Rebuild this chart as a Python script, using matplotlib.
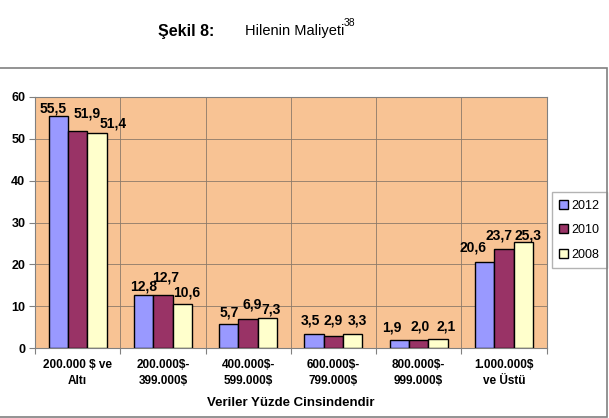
import numpy as np
import matplotlib.pyplot as plt
from matplotlib.patches import Rectangle
from matplotlib.transforms import offset_copy

# Veriler (yüzde)
kategoriler = ['200.000 $ ve\nAltı', '200.000$-\n399.000$', '400.000$-\n599.000$',
               '600.000$-\n799.000$', '800.000$-\n999.000$', '1.000.000$\nve Üstü']
yillar = ['2012', '2010', '2008']
v2012 = [55.5, 12.8, 5.7, 3.5, 1.9, 20.6]
v2010 = [51.9, 12.7, 6.9, 2.9, 2.0, 23.7]
v2008 = [51.4, 10.6, 7.3, 3.3, 2.1, 25.3]
renkler = ['#9999FF', '#993366', '#FFFFCC']

# etiket kaydırmaları (piksel: dx, çubuk üstünden yukarı dy) - seri bazında
kaydir = [
    [(-5, 7), (0, 8), (0, 12), (-4, 13), (-8, 13), (-12, 14)],
    [(9, 17), (3, 18), (4, 15), (0, 16), (1, 13), (-5, 13)],
    [(16, 9), (4, 11), (4, 8), (5, 14), (8, 13), (5, 7)],
]

fig = plt.figure(figsize=(6.09, 4.18), dpi=100)
ax = fig.add_axes([0.0575, 0.167, 0.84, 0.601])

# dış çerçeve
fig.patches.append(Rectangle((-0.02, 0.003), 0.02 + 607 / 609, 1 - 68 / 418 - 0.003,
                             transform=fig.transFigure, fill=False,
                             edgecolor='#808080', linewidth=1.2))

fig.text(0.305, 0.925, 'Şekil 8:', fontsize=11.5, fontweight='bold', ha='center', va='center',
         family='Liberation Sans')
t = fig.text(0.402, 0.925, 'Hilenin Maliyeti', fontsize=10.5, ha='left', va='center',
             family='Liberation Sans')
fig.canvas.draw()
bb = t.get_window_extent()
fig.text(bb.x1 / fig.bbox.width - 0.001, 0.945, '38', fontsize=7.5, ha='left', va='center',
         family='Liberation Sans')

x = np.arange(len(kategoriler))
w = 0.227
seriler = [v2012, v2010, v2008]
for i, (vals, renk, yil) in enumerate(zip(seriler, renkler, yillar)):
    bars = ax.bar(x + (i - 1) * w, vals, w, color=renk, edgecolor='black',
                  linewidth=1, label=yil, zorder=3)
    for j, (b, v) in enumerate(zip(bars, vals)):
        dx, dy = kaydir[i][j]
        tr = offset_copy(ax.transData, fig=fig, x=dx, y=dy, units='dots')
        ax.text(b.get_x() + b.get_width() / 2, v, f'{v:.1f}'.replace('.', ','),
                ha='center', va='center', fontsize=10, fontweight='bold',
                family='Liberation Sans', zorder=4, transform=tr)

ax.set_facecolor('#F8C394')
ax.set_xlim(-0.5, len(kategoriler) - 0.5)
ax.set_ylim(0, 60)
ax.set_yticks(range(0, 61, 10))
ax.set_xticks(np.arange(-0.5, len(kategoriler), 1), minor=False)
ax.set_xticklabels([''] * (len(kategoriler) + 1))
ax.set_xticks(x, minor=True)
ax.set_xticklabels(kategoriler, minor=True, fontsize=8.5, fontweight='bold',
                   family='Liberation Sans', linespacing=1.4)
ax.tick_params(axis='x', which='minor', length=0, pad=8)
ax.tick_params(axis='x', which='major', length=4, color='#808080')
ax.tick_params(axis='y', length=4, color='#808080', labelsize=9, pad=3)
for lab in ax.get_yticklabels():
    lab.set_fontweight('bold')
    lab.set_family('Liberation Sans')
ax.grid(True, which='major', color='#8C7A6A', linewidth=0.6, zorder=0)
for s in ax.spines.values():
    s.set_color('#808080')

ax.set_xlabel('Veriler Yüzde Cinsindendir', fontsize=9.5, fontweight='bold',
              family='Liberation Sans', labelpad=7)

leg = ax.legend(loc='center left', bbox_to_anchor=(0.998, 0.47),
                frameon=True, fancybox=False, edgecolor='#A0A0A0',
                handlelength=0.7, handleheight=0.7, handletextpad=0.25,
                borderpad=0.6, labelspacing=1.0, prop={'family': 'Liberation Sans', 'size': 9})

fig.savefig('out.png', dpi=100)
